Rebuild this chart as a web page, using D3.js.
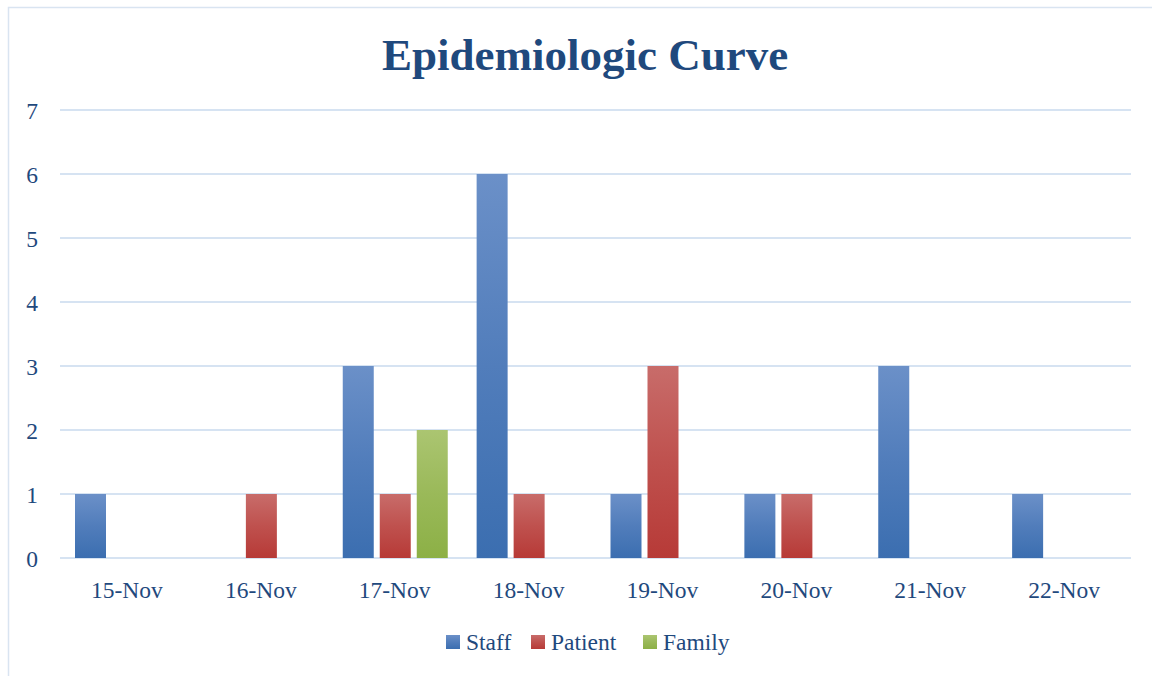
<!DOCTYPE html>
<html><head><meta charset="utf-8">
<script src="https://cdn.jsdelivr.net/npm/d3@7"></script>
<style>html,body{margin:0;padding:0;background:#fff;}svg{display:block;}</style>
</head><body>
<svg id="c" width="1152" height="676"></svg>
<script>
const categories = ["15-Nov","16-Nov","17-Nov","18-Nov","19-Nov","20-Nov","21-Nov","22-Nov"];
const seriesNames = ["Staff","Patient","Family"];
const staff   = [1,0,3,6,1,1,3,1];
const patient = [0,1,1,1,3,1,0,0];
const family  = [0,0,2,0,0,0,0,0];
const yTicks = [0,1,2,3,4,5,6,7];
const title = "Epidemiologic Curve";

const values = [staff, patient, family];
const colors = [
  {top:"#6b90c8", bot:"#3b6eb0"},
  {top:"#c86c6a", bot:"#b73a37"},
  {top:"#abc571", bot:"#8cb046"}
];
const textColor = "#1f497d";
const font = "'Liberation Serif', 'DejaVu Serif', serif";

const svg = d3.select("#c");
const defs = svg.append("defs");
colors.forEach((c,i)=>{
  const g = defs.append("linearGradient").attr("id","g"+i).attr("x1",0).attr("y1",0).attr("x2",0).attr("y2",1);
  g.append("stop").attr("offset","0%").attr("stop-color",c.top);
  g.append("stop").attr("offset","50%").attr("stop-color",d3.interpolateRgb(c.top,c.bot)(0.55));
  g.append("stop").attr("offset","100%").attr("stop-color",c.bot);
});

// chart frame
svg.append("path").attr("d","M8.5,676 V7.5 H1152").attr("fill","none").attr("stroke","#d9e4f1").attr("stroke-width",1.5);

const x0 = d3.scaleBand().domain(categories).range([60,1131]).paddingInner(0).paddingOuter(0);
const x1 = d3.scaleBand().domain(seriesNames).range([15,120]).paddingInner(6/37).paddingOuter(0);
const y = d3.scaleLinear().domain([0,7]).range([558,110]);

// gridlines
svg.append("g").selectAll("line").data(yTicks).join("line")
  .attr("x1",60).attr("x2",1131).attr("y1",d=>y(d)).attr("y2",d=>y(d))
  .attr("stroke","#d6e3f2").attr("stroke-width",2);

// y axis labels
const yAxis = d3.axisLeft(y).tickValues(yTicks).tickFormat(d3.format("d")).tickSize(0).tickPadding(0);
const ya = svg.append("g").attr("transform","translate(38,0)").call(yAxis);
ya.select(".domain").remove();
ya.selectAll("text").attr("fill",textColor).style("font-family",font).style("font-size","23.5px").attr("dy","0.35em");

// x axis labels
const xAxis = d3.axisBottom(x0).tickSize(0).tickPadding(0);
const xa = svg.append("g").attr("transform","translate(0,0)").call(xAxis);
xa.select(".domain").remove();
xa.selectAll("text").attr("fill",textColor).style("font-family",font).style("font-size","23.5px").attr("y",598).attr("dy",null);

// bars
values.forEach((vals,si)=>{
  svg.append("g").selectAll("rect").data(vals.map((v,i)=>({v,c:categories[i]})).filter(d=>d.v>0)).join("rect")
    .attr("x",d=>x0(d.c)+x1(seriesNames[si]))
    .attr("width",x1.bandwidth())
    .attr("y",d=>y(d.v))
    .attr("height",d=>y(0)-y(d.v))
    .attr("fill","url(#g"+si+")");
});

// title
svg.append("text").attr("x",585).attr("y",70).attr("text-anchor","middle")
  .attr("fill",textColor).style("font-family",font).style("font-weight","bold").style("font-size","45px")
  .text(title);

// legend
const legX = [446,531,643];
const lg = svg.append("g");
seriesNames.forEach((s,i)=>{
  lg.append("rect").attr("x",legX[i]).attr("y",635).attr("width",14).attr("height",14).attr("fill","url(#g"+i+")");
  lg.append("text").attr("x",legX[i]+20).attr("y",650).attr("fill",textColor)
    .style("font-family",font).style("font-size","23.5px").text(s);
});
</script>
</body></html>
